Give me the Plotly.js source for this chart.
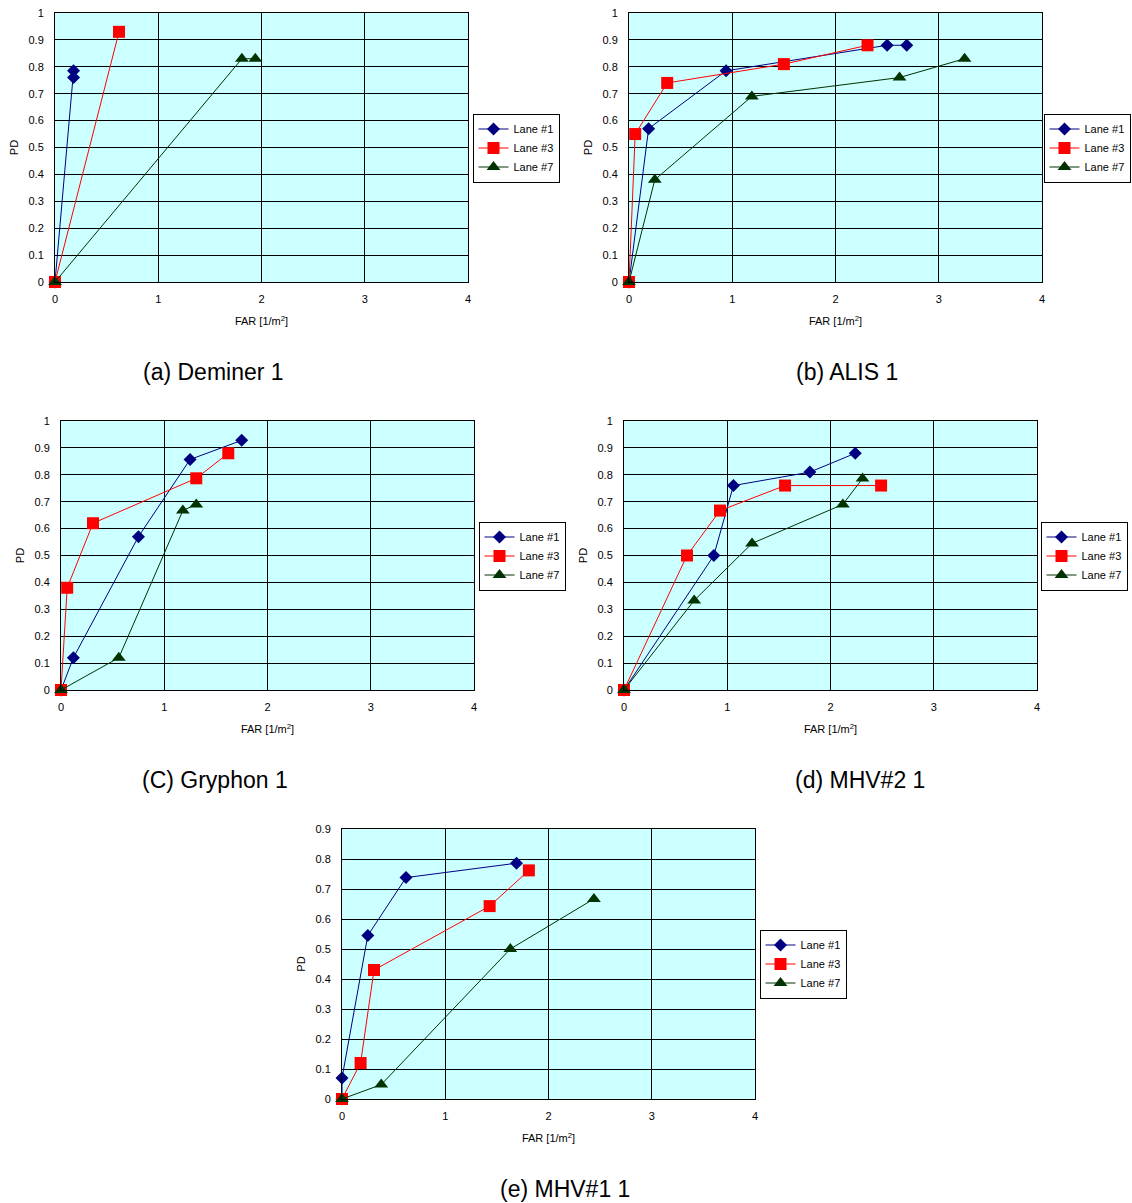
<!DOCTYPE html>
<html>
<head>
<meta charset="utf-8">
<script src="https://cdn.plot.ly/plotly-3.0.1.min.js"></script>
<style>body{margin:0;padding:0;background:#fff}#chart{width:1132px;height:1203px}</style>
</head>
<body>
<div id="chart"></div>
<script>
// ---- Data ----
var laneNames = ["Lane #1", "Lane #3", "Lane #7"];
var panelTitles = ["(a) Deminer 1", "(b) ALIS 1", "(C) Gryphon 1", "(d) MHV#2 1", "(e) MHV#1 1"];
var xTickVals = [0, 1, 2, 3, 4];

// (a) Deminer 1
var aLane1X = [0, 0.18, 0.18];           var aLane1Y = [0, 0.76, 0.785];
var aLane3X = [0, 0.62];                 var aLane3Y = [0, 0.93];
var aLane7X = [0, 1.81, 1.94];           var aLane7Y = [0, 0.83, 0.83];

// (b) ALIS 1
var bLane1X = [0, 0.19, 0.94, 2.50, 2.69];  var bLane1Y = [0, 0.57, 0.785, 0.88, 0.88];
var bLane3X = [0, 0.06, 0.37, 1.50, 2.31];  var bLane3Y = [0, 0.55, 0.74, 0.81, 0.88];
var bLane7X = [0, 0.25, 1.19, 2.62, 3.25];  var bLane7Y = [0, 0.38, 0.69, 0.76, 0.83];

// (C) Gryphon 1
var cLane1X = [0, 0.12, 0.75, 1.25, 1.75];  var cLane1Y = [0, 0.12, 0.57, 0.857, 0.928];
var cLane3X = [0, 0.06, 0.31, 1.31, 1.62];  var cLane3Y = [0, 0.38, 0.62, 0.787, 0.88];
var cLane7X = [0, 0.56, 1.18, 1.31];        var cLane7Y = [0, 0.12, 0.667, 0.69];

// (d) MHV#2 1
var dLane1X = [0, 0.87, 1.06, 1.80, 2.24];  var dLane1Y = [0, 0.5, 0.76, 0.81, 0.88];
var dLane3X = [0, 0.61, 0.93, 1.56, 2.49];  var dLane3Y = [0, 0.5, 0.667, 0.76, 0.76];
var dLane7X = [0, 0.68, 1.24, 2.12, 2.31];  var dLane7Y = [0, 0.333, 0.545, 0.69, 0.786];

// (e) MHV#1 1
var eLane1X = [0, 0, 0.25, 0.62, 1.69];     var eLane1Y = [0, 0.07, 0.545, 0.738, 0.786];
var eLane3X = [0, 0.18, 0.31, 1.43, 1.81];  var eLane3Y = [0, 0.12, 0.43, 0.643, 0.762];
var eLane7X = [0, 0.38, 1.63, 2.44];        var eLane7Y = [0, 0.048, 0.5, 0.667];

var yMax = [1, 1, 1, 1, 0.9];

var panelData = [
  [[aLane1X, aLane1Y], [aLane3X, aLane3Y], [aLane7X, aLane7Y]],
  [[bLane1X, bLane1Y], [bLane3X, bLane3Y], [bLane7X, bLane7Y]],
  [[cLane1X, cLane1Y], [cLane3X, cLane3Y], [cLane7X, cLane7Y]],
  [[dLane1X, dLane1Y], [dLane3X, dLane3Y], [dLane7X, dLane7Y]],
  [[eLane1X, eLane1Y], [eLane3X, eLane3Y], [eLane7X, eLane7Y]]
];

// ---- Styling / layout ----
var W = 1132, H = 1203;
var FONT = "Arial, 'Liberation Sans', sans-serif";
var laneStyle = [
  {color: "#000080", symbol: "diamond", size: 10},
  {color: "#FF0000", symbol: "square", size: 12},
  {color: "#003300", symbol: "triangle-up", size: 12}
];
// plot-area boxes in pixels: [left, top, right, bottom]
var boxes = [
  [55, 13, 468, 282],
  [629, 13, 1042, 282],
  [61, 421, 474, 690],
  [624, 421, 1037, 690],
  [342, 829, 755, 1099]
];
// legend centres in pixels
var legendPos = [[516, 148], [1087, 148], [522, 556], [1084, 556], [803, 964]];
var captionPos = [[213, 372], [847, 372], [215, 780], [860, 780], [565, 1189]];

var traces = [];
var layout = {
  width: W, height: H,
  margin: {l: 0, r: 0, t: 0, b: 0, autoexpand: false},
  paper_bgcolor: "#ffffff",
  plot_bgcolor: "#CCFFFF",
  font: {family: FONT, size: 11, color: "#000"},
  showlegend: true,
  annotations: []
};

boxes.forEach(function (b, p) {
  var n = p === 0 ? "" : String(p + 1);
  var xa = "xaxis" + n, ya = "yaxis" + n;
  var yTicks = [];
  for (var k = 0; k <= Math.round(yMax[p] * 10); k++) yTicks.push(+(k / 10).toFixed(1));
  layout[xa] = {
    domain: [b[0] / W, b[2] / W],
    anchor: "y" + n,
    range: [0, 4], autorange: false,
    tickvals: xTickVals, ticktext: xTickVals.map(String),
    showgrid: true, gridcolor: "#000", gridwidth: 1,
    zeroline: false, showline: true, linecolor: "#000", linewidth: 1, mirror: true,
    ticks: "", ticklabelstandoff: 7,
    tickfont: {family: FONT, size: 11, color: "#000"},
    title: {text: "FAR [1/m<sup>2</sup>]", font: {family: FONT, size: 11, color: "#000"}, standoff: 13},
    fixedrange: true
  };
  layout[ya] = {
    domain: [1 - b[3] / H, 1 - b[1] / H],
    anchor: "x" + n,
    range: [0, yMax[p]], autorange: false,
    tickvals: yTicks, ticktext: yTicks.map(String),
    showgrid: true, gridcolor: "#000", gridwidth: 1,
    zeroline: false, showline: true, linecolor: "#000", linewidth: 1, mirror: true,
    ticks: "", ticklabelstandoff: 8,
    tickfont: {family: FONT, size: 11, color: "#000"},
    title: {text: "PD", font: {family: FONT, size: 11, color: "#000"}, standoff: 7},
    fixedrange: true
  };
  var lg = p === 0 ? "legend" : "legend" + (p + 1);
  layout[lg] = {
    x: legendPos[p][0] / W, y: 1 - legendPos[p][1] / H,
    xanchor: "center", yanchor: "middle",
    bgcolor: "#fff", bordercolor: "#000", borderwidth: 1,
    font: {family: FONT, size: 11, color: "#000"},
    itemwidth: 30, tracegroupgap: 0
  };
  panelData[p].forEach(function (d, i) {
    traces.push({
      type: "scatter", mode: "lines+markers",
      x: d[0], y: d[1],
      xaxis: "x" + n, yaxis: "y" + n,
      name: laneNames[i],
      legend: lg,
      line: {color: laneStyle[i].color, width: 1},
      marker: {color: laneStyle[i].color, symbol: laneStyle[i].symbol, size: laneStyle[i].size,
               line: {width: 0}},
      cliponaxis: false,
      hoverinfo: "x+y+name"
    });
  });
  layout.annotations.push({
    text: panelTitles[p], xref: "paper", yref: "paper",
    x: captionPos[p][0] / W, y: 1 - captionPos[p][1] / H,
    xanchor: "center", yanchor: "middle", showarrow: false,
    font: {family: FONT, size: 23, color: "#000"}
  });
});

Plotly.newPlot("chart", traces, layout, {displayModeBar: false});
</script>
</body>
</html>
